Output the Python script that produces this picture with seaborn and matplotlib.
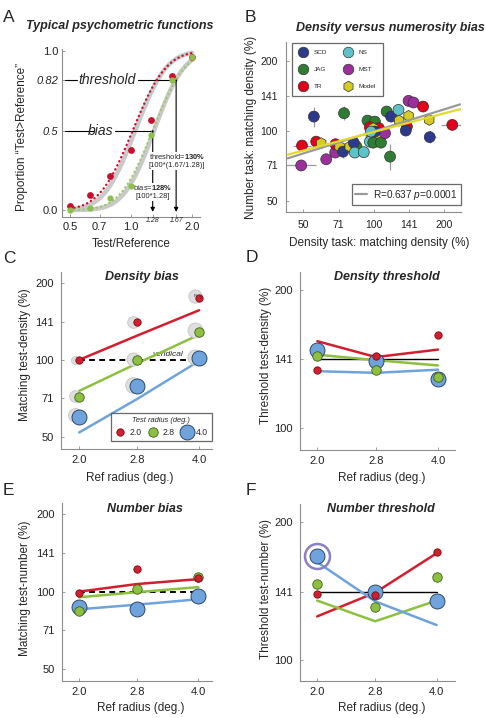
import math
import numpy as np
import pandas as pd
import seaborn as sns
import matplotlib.pyplot as plt
from matplotlib.lines import Line2D
from matplotlib.ticker import NullLocator

# ---------------- panel A: psychometric functions
test_ratio = [0.5, 0.63, 0.79, 1.0, 1.26, 1.59, 2.0]
prop_red = [0.027, 0.094, 0.214, 0.377, 0.566, 0.845, 0.964]
prop_green = [0.0, 0.015, 0.074, 0.153, 0.47, 0.82, 0.96]
# cumulative gaussian fits (pse, sd of log ratio)
fit_red = [1.02, 0.30]
fit_red_gray = [1.05, 0.28]
fit_green = [1.28, 0.29]
fit_green_gray = [1.30, 0.27]
bias_ratio = 1.28
thresh_ratio = 1.67

# ---------------- panel B: density vs numerosity bias
subj = ['SCD', 'JAG', 'TR', 'TR', 'Model', 'MST', 'MST', 'MST', 'TR', 'Model',
        'SCD', 'Model', 'JAG', 'SCD', 'NS', 'NS', 'JAG', 'JAG', 'TR', 'TR',
        'Model', 'Model', 'Model', 'NS', 'JAG', 'JAG', 'MST', 'SCD', 'NS', 'JAG',
        'JAG', 'SCD', 'NS', 'Model', 'Model', 'MST', 'MST', 'TR', 'TR', 'SCD',
        'Model', 'SCD', 'TR']
dens = [55.6, 74.8, 49.5, 56.9, 59.8, 49.1, 62.8, 68.6, 68.8, 71.6,
        74.1, 79.1, 84.5, 82.3, 83.1, 90.8, 94.2, 101.3, 96.4, 105.4,
        99.7, 97.4, 104.0, 96.4, 99.7, 107.5, 111.9, 101.3, 97.4, 117.6,
        113.7, 118.7, 127.7, 128.5, 141.0, 141.0, 148.0, 162.6, 138.7, 137.2,
        172.8, 173.6, 216.6]
numb = [115.2, 119.1, 86.5, 89.9, 88.5, 71.0, 75.5, 80.7, 87.6, 85.6,
        81.4, 85.6, 85.6, 89.0, 80.7, 81.0, 110.7, 109.6, 103.7, 102.7,
        102.7, 96.1, 94.5, 89.9, 89.0, 89.0, 97.7, 99.3, 99.3, 77.5,
        121.1, 115.2, 123.1, 110.7, 116.0, 134.6, 132.4, 127.2, 104.4, 100.3,
        111.5, 94.0, 106.1]
dens_err = [1.03, 1.0, 1.093, 1.0, 1.0, 1.16, 1.0, 1.0, 1.0, 1.0,
            1.0, 1.0, 1.0, 1.0, 1.0, 1.0, 1.0, 1.0, 1.0, 1.0,
            1.0, 1.0, 1.0, 1.0, 1.0, 1.0, 1.0, 1.0, 1.0, 1.0,
            1.0, 1.0, 1.0, 1.0, 1.0, 1.0, 1.0, 1.0, 1.0, 1.0,
            1.0, 1.06, 1.115]
numb_err = [1.104, 1.07, 1.0, 1.0, 1.0, 1.0, 1.0, 1.0, 1.0, 1.0,
            1.06, 1.0, 1.0, 1.0, 1.0, 1.0, 1.0, 1.0, 1.0, 1.0,
            1.0, 1.0, 1.0, 1.0, 1.0, 1.0, 1.0, 1.0, 1.0, 1.137,
            1.0, 1.0, 1.0, 1.0, 1.0, 1.0, 1.0, 1.0, 1.0, 1.0,
            1.0, 1.06, 1.0]
subjects = ['SCD', 'JAG', 'TR', 'NS', 'MST', 'Model']
reg_x = [43, 234]
reg_all = [76.2, 130.0]
reg_model = [79.0, 124.0]

# ---------------- panels C-F (rows: test radius 2.0, 2.8, 4.0)
ref_radius = [2.0, 2.8, 4.0]
test_radius = ['2.0', '2.8', '4.0']
dbias_pts = [[100, 141, 174], [71.8, 100, 128.9], [59.6, 79, 102]]
dbias_fit = [[100, 124.5, 156.3], [75.6, 97, 125.4], [52, 70.4, 99]]
dbias_gray = [[100, 141, 178], [72, 101, 131], [61, 80, 103]]
dthr_pts = [[133.8, 143.2, 159.7], [143.4, 133.5, 129.3], [147.6, 140, 128]]
dthr_fit = [[154.6, 142.7, 148.2], [144.4, 140.5, 136.8], [132.9, 131.8, 133.9]]
nbias_pts = [[99.1, 122.5, 113.3], [84.4, 102.2, 113.6], [87.4, 85.7, 96.2]]
nbias_fit = [[100, 107, 111.8], [95.1, 99.5, 104.1], [85.4, 89, 93.4]]
nthr_pts = [[139.6, 138.9, 172.4], [146.3, 130.7, 151.7], [168.4, 141, 134.3]]
nthr_fit = [[124.5, 140.3, 171], [134.8, 121.5, 134.8], [163.5, 134.3, 119.2]]

# ---------------- style
sns.set_style("ticks")
plt.rcParams['font.family'] = ['Liberation Sans', 'DejaVu Sans']
plt.rcParams['mathtext.fontset'] = 'custom'
plt.rcParams['mathtext.rm'] = 'Liberation Sans'
plt.rcParams['mathtext.it'] = 'Liberation Sans:italic'
plt.rcParams['mathtext.bf'] = 'Liberation Sans:bold'

SPINE = '#8c8c8c'
SUBJ_COL = {'SCD': '#2d3a8c', 'JAG': '#2f7d32', 'TR': '#e3001b',
            'NS': '#5ec3c8', 'MST': '#9b2f9b', 'Model': '#d4cc22'}
COLS = ['#d11f2f', '#8dc03f', '#6ea3dc']
EDGES = ['#7a0a14', '#3f5f1c', '#1d3557']
MS = [5.3, 6.8, 10.8]
GRAY_MS = [[5.8, 8.4, 9.6], [8.4, 9.4, 10.8], [10.0, 11.3, 10.8]]

W, H = 486, 718
fig = plt.figure(figsize=(W / 100, H / 100), dpi=100)


def rect(l, t, r, b):
    return [l / W, 1 - b / H, (r - l) / W, (b - t) / H]


def ftext(x, y, s, **kw):
    fig.text(x / W, 1 - y / H, s, **kw)


def style_axes(ax, xpad=4, ypad=5.3, size=8):
    for s in ['top', 'right']:
        ax.spines[s].set_visible(False)
    for s in ['left', 'bottom']:
        ax.spines[s].set_color(SPINE)
        ax.spines[s].set_linewidth(0.8)
    ax.tick_params(direction='in', length=2.5, width=0.6, color=SPINE,
                   labelsize=size, labelcolor='#222')
    ax.tick_params(axis='x', pad=xpad)
    ax.tick_params(axis='y', pad=ypad)
    ax.xaxis.set_minor_locator(NullLocator())
    ax.yaxis.set_minor_locator(NullLocator())


def cumgauss(x, pse, sd):
    return [0.5 * (1 + math.erf(math.log(v / pse) / (sd * math.sqrt(2)))) for v in x]


# ================= A
axA = fig.add_axes(rect(62, 49, 200, 217))
axA.set_xscale('log')
axA.set_xlim(0.457, 2.19)
axA.set_ylim(-0.044, 1.013)
xs = np.geomspace(0.5, 2.0, 200)
axA.plot(xs, cumgauss(xs, *fit_red_gray), color='#c9c9c9', lw=3.2, zorder=2)
axA.plot(xs, cumgauss(xs, *fit_green_gray), color='#c9c9c9', lw=3.2, zorder=2)
axA.plot(xs, cumgauss(xs, *fit_red), color='#c8102e', lw=1.7,
         ls=(0, (0.1, 1.8)), dash_capstyle='round', zorder=3)
axA.plot(xs, cumgauss(xs, *fit_green), color='#9cc96a', lw=1.7,
         ls=(0, (0.1, 1.8)), dash_capstyle='round', zorder=3)
sns.scatterplot(x=test_ratio, y=prop_red, color='#c8102e', s=24, linewidth=0,
                ax=axA, zorder=4)
sns.scatterplot(x=test_ratio, y=prop_green, color='#8dc04a', s=20, linewidth=0,
                ax=axA, zorder=4)
# threshold / bias annotations
axA.plot([0.472, 0.544], [0.82, 0.82], color='k', lw=0.8)
axA.plot([1.078, thresh_ratio], [0.82, 0.82], color='k', lw=0.8)
axA.text(0.765, 0.82, 'threshold', fontsize=10, style='italic', ha='center', va='center')
axA.plot([0.472, 0.66], [0.5, 0.5], color='k', lw=0.8)
axA.plot([0.834, bias_ratio], [0.5, 0.5], color='k', lw=0.8)
axA.text(0.709, 0.5, 'bias', fontsize=10, style='italic', ha='center', va='center')
for xv, yv in [(bias_ratio, 0.5), (thresh_ratio, 0.82)]:
    axA.annotate('', xy=(xv, -0.012), xytext=(xv, yv),
                 arrowprops=dict(arrowstyle='-|>', color='k', lw=0.8,
                                 mutation_scale=6, shrinkA=0, shrinkB=0))
wb = dict(fc='white', ec='none', pad=0.4)
axA.text(1.68, 0.335, r'threshold=$\bf{130\%}$', fontsize=5.4, ha='center', va='center', bbox=wb)
axA.text(1.68, 0.279, '[100*(1.67/1.28)]', fontsize=5.4, ha='center', va='center', bbox=wb)
axA.text(1.28, 0.14, r'bias=$\bf{128\%}$', fontsize=5.4, ha='center', va='center', bbox=wb)
axA.text(1.28, 0.084, '[100*1.28]', fontsize=5.4, ha='center', va='center', bbox=wb)
axA.set_xticks([0.5, 0.7, 1.0, 1.28, 1.67, 2.0], labels=['0.5', '0.7', '1.0', '', '', '2.0'])
axA.set_yticks([0.0, 0.5, 0.82, 1.0], labels=['0.0', '0.5', '0.82', '1.0'])
style_axes(axA, xpad=3.5, ypad=2.7)
for lbl in axA.get_yticklabels()[1:3]:
    lbl.set_style('italic')
for xv, s in [(1.28, '1.28'), (1.67, '1.67')]:
    axA.text(xv, -0.018, s, fontsize=5, style='italic', ha='center', va='center',
             transform=axA.get_xaxis_transform())
ftext(120, 26, 'Typical psychometric functions', fontsize=9, weight='bold',
      style='italic', ha='center', va='center')
ftext(22, 137, 'Proportion \u201cTest>Reference\u201d', fontsize=8.5, rotation=90,
      ha='center', va='center')
ftext(131, 244, 'Test/Reference', fontsize=8.5, ha='center', va='center')

# ================= B
axB = fig.add_axes(rect(286, 42, 461, 212))
axB.set_xscale('log')
axB.set_yscale('log')
axB.set_xlim(42.3, 236)
axB.set_ylim(44.8, 241)
dfB = pd.DataFrame({'subj': subj, 'dens': dens, 'numb': numb,
                    'dens_err': dens_err, 'numb_err': numb_err})
xe = [dfB.dens - dfB.dens / dfB.dens_err, dfB.dens * dfB.dens_err - dfB.dens]
ye = [dfB.numb - dfB.numb / dfB.numb_err, dfB.numb * dfB.numb_err - dfB.numb]
axB.errorbar(dfB.dens, dfB.numb, xerr=xe, yerr=ye, fmt='none', ecolor='#9a9a9a',
             elinewidth=0.9, zorder=2)
sns.scatterplot(data=dfB, x='dens', y='numb', hue='subj', style='subj',
                palette=SUBJ_COL, markers={s: ('h' if s == 'Model' else 'o') for s in subjects},
                s=62, edgecolor='#333333', linewidth=0.5, legend=False, ax=axB, zorder=3)
axB.plot(reg_x, reg_all, color='#9a9a9a', lw=1.6, zorder=4)
axB.plot(reg_x, reg_model, color='#e2da2e', lw=1.6, zorder=4)
ticksB = [50, 71, 100, 141, 200]
axB.set_xticks(ticksB, labels=[str(t) for t in ticksB])
axB.set_yticks(ticksB, labels=[str(t) for t in ticksB])
axB.set_xlabel('')
axB.set_ylabel('')
style_axes(axB, xpad=6, ypad=5.8, size=7.5)
handles = [Line2D([], [], ls='', marker=('h' if s == 'Model' else 'o'), ms=7.6,
                  mfc=SUBJ_COL[s], mec='#333333', mew=0.5, label=s) for s in subjects]
leg1 = axB.legend(handles=handles, ncol=2, loc='upper left',
                  bbox_to_anchor=(6 / 175, 1 - 1 / 170), borderaxespad=0,
                  fontsize=4.6, frameon=True, fancybox=False, edgecolor='#444444',
                  labelspacing=1.75, columnspacing=2.6, handletextpad=1.1,
                  borderpad=1.1, handlelength=1.2)
leg1.get_frame().set_linewidth(0.9)
axB.add_artist(leg1)
leg2 = axB.legend(handles=[Line2D([], [], color='#9a9a9a', lw=1.6,
                                  label=r'R=0.637 $\it{p}$=0.0001')],
                  loc='lower right', bbox_to_anchor=(1.0, 7 / 170), borderaxespad=0,
                  fontsize=7.2, frameon=True, fancybox=False, edgecolor='#444444',
                  handlelength=1.2, borderpad=0.35, handletextpad=0.6)
leg2.get_frame().set_linewidth(0.9)
ftext(390, 28, 'Density versus numerosity bias', fontsize=9, weight='bold',
      style='italic', ha='center', va='center')
ftext(251, 127, 'Number task: matching density (%)', fontsize=8.5, rotation=90,
      ha='center', va='center')
ftext(379, 243, 'Density task: matching density (%)', fontsize=8.5, ha='center', va='center')


# ================= C-F
def radius_panel(ax, pts, fits, ref_y, dashed, yticks, ylim, xlim):
    ax.set_xscale('log')
    ax.set_yscale('log')
    ax.set_xlim(xlim)
    ax.set_ylim(ylim)
    if dashed:
        ax.plot([2.0, 4.0], [ref_y, ref_y], color='k', lw=1.4, ls=(0, (3, 2.2)), zorder=2)
    else:
        ax.plot([2.0, 4.0], [ref_y, ref_y], color='k', lw=1.0, zorder=2)
    for i in range(3):
        sns.lineplot(x=ref_radius, y=fits[i], color=COLS[i], lw=1.8, ax=ax, zorder=3)
    for i in [2, 1, 0]:
        sns.scatterplot(x=ref_radius, y=pts[i], s=MS[i] ** 2, color=COLS[i],
                        edgecolor=EDGES[i], linewidth=0.6, ax=ax, zorder=5 + (2 - i))
    ax.set_xticks(ref_radius, labels=test_radius)
    ax.set_yticks(yticks, labels=[str(t) for t in yticks])
    style_axes(ax, xpad=4, ypad=5.3, size=8)


# C
axC = fig.add_axes(rect(61, 272, 212, 449))
for i in range(3):
    for j in range(3):
        axC.plot(ref_radius[j] * 0.977, dbias_gray[i][j], ls='', marker='o',
                 ms=GRAY_MS[i][j], mfc='#dedede', mec='#c6c6c6', mew=0.6, zorder=4)
radius_panel(axC, dbias_pts, dbias_fit, 100, True, [50, 71, 100, 141, 200],
             (44.8, 220.6), (1.80, 4.31))
axC.text(3.9, 178, 'R', fontsize=3, ha='center', va='center', zorder=9)
axC.text(4.02, 174, 'T', fontsize=3, ha='center', va='center', zorder=9)
axC.text(3.34, 104.6, 'veridical', fontsize=6, style='italic', ha='center', va='center',
         bbox=dict(fc='white', ec='none', pad=0.2), zorder=2.5)
legh = [Line2D([], [], ls='', marker='o', ms=MS[i], mfc=COLS[i], mec=EDGES[i], mew=0.6,
               label=test_radius[i]) for i in range(3)]
legC = axC.legend(handles=legh, ncol=3, title='Test radius (deg.)', loc='lower right',
                  bbox_to_anchor=(1.0, 8 / 177), borderaxespad=0, fontsize=6.2,
                  title_fontsize=5.4, frameon=True, fancybox=False, edgecolor='#444444',
                  handletextpad=0.45, columnspacing=0.7, handlelength=1.3, borderpad=0.45)
legC.get_title().set_style('italic')
legC.get_frame().set_linewidth(0.9)
ftext(142, 277, 'Density bias', fontsize=9, weight='bold', style='italic',
      ha='center', va='center')
ftext(25, 355, 'Matching test-density (%)', fontsize=8.5, rotation=90, ha='center', va='center')
ftext(130, 478, 'Ref radius (deg.)', fontsize=8.5, ha='center', va='center')

# D
axD = fig.add_axes(rect(300, 272, 455, 450))
radius_panel(axD, dthr_pts, dthr_fit, 141, False, [100, 141, 200], (89.3, 219.2), (1.81, 4.41))
ftext(387, 277, 'Density threshold', fontsize=9, weight='bold', style='italic',
      ha='center', va='center')
ftext(266, 355, 'Threshold test-density (%)', fontsize=8.5, rotation=90, ha='center', va='center')
ftext(382, 478, 'Ref radius (deg.)', fontsize=8.5, ha='center', va='center')

# E
axE = fig.add_axes(rect(62, 503, 212, 681))
radius_panel(axE, nbias_pts, nbias_fit, 100, True, [50, 71, 100, 141, 200],
             (45, 220.7), (1.81, 4.33))
ftext(145, 509, 'Number bias', fontsize=9, weight='bold', style='italic',
      ha='center', va='center')
ftext(25, 588, 'Matching test-number (%)', fontsize=8.5, rotation=90, ha='center', va='center')
ftext(141, 708, 'Ref radius (deg.)', fontsize=8.5, ha='center', va='center')

# F
axF = fig.add_axes(rect(300, 504, 455, 681))
radius_panel(axF, nthr_pts, nthr_fit, 141, False, [100, 141, 200], (90, 219), (1.81, 4.45))
axF.plot(ref_radius[0], nthr_pts[2][0], ls='', marker='o', ms=18, mfc='none',
         mec='#8b80c2', mew=1.8, zorder=9)
ftext(381, 509, 'Number threshold', fontsize=9, weight='bold', style='italic',
      ha='center', va='center')
ftext(266, 589, 'Threshold test-number (%)', fontsize=8.5, rotation=90, ha='center', va='center')
ftext(382, 708, 'Ref radius (deg.)', fontsize=8.5, ha='center', va='center')

# panel letters
for (x, y, s) in [(3, 22, 'A'), (245, 22, 'B'), (3, 263, 'C'), (246, 262, 'D'),
                  (3, 495, 'E'), (246, 495, 'F')]:
    ftext(x, y, s, fontsize=12.5, va='baseline', ha='left')

fig.savefig('out.png', dpi=100)
